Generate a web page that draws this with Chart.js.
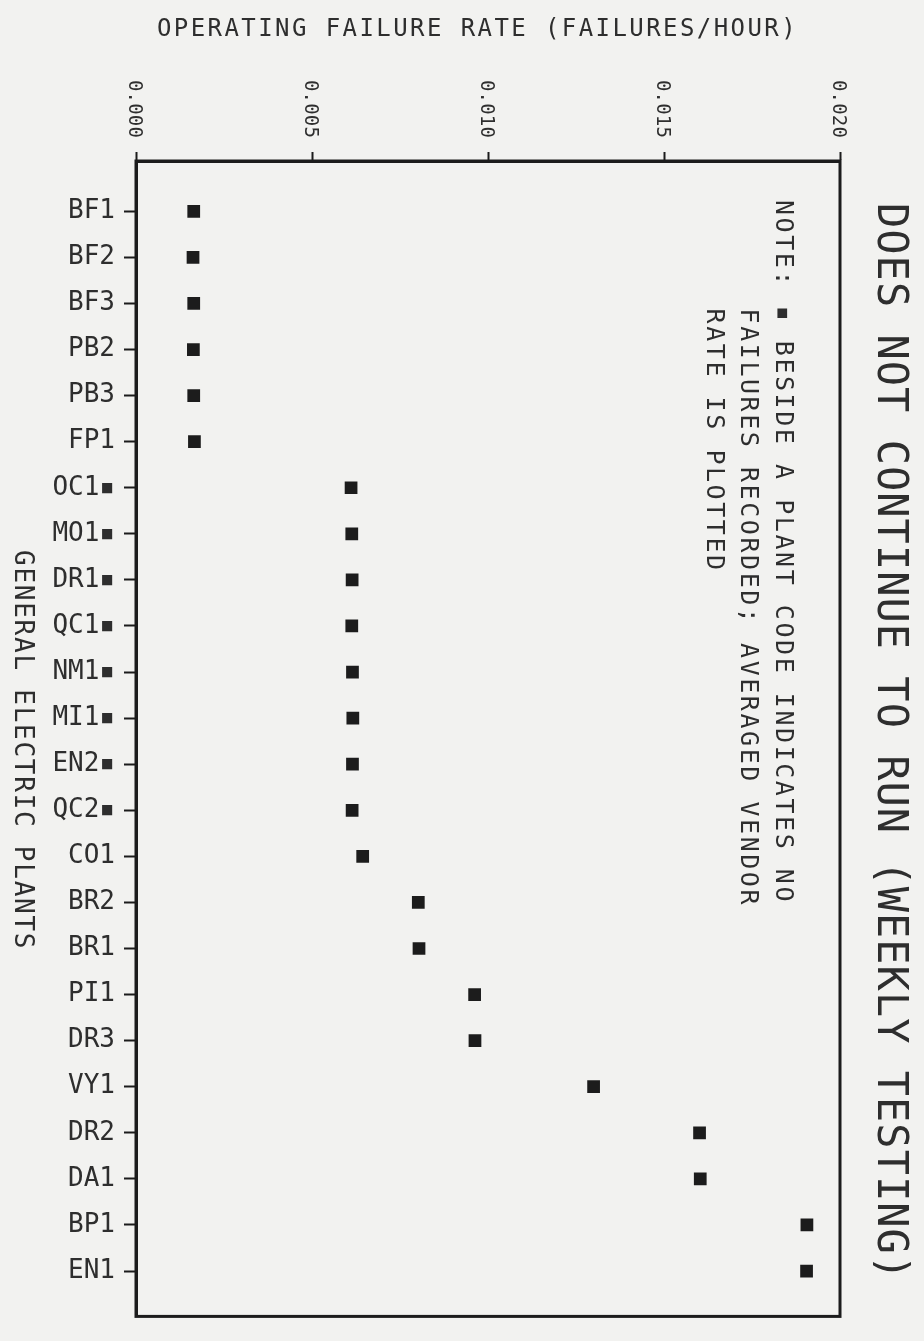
<!DOCTYPE html>
<html>
<head>
<meta charset="utf-8">
<script src="https://cdn.jsdelivr.net/npm/chart.js@4.4.1/dist/chart.umd.min.js"></script>
<style>
  html, body { margin: 0; padding: 0; background: #f2f2f0; }
  #wrap { width: 924px; height: 1341px; position: relative; }
  canvas { display: block; }
</style>
</head>
<body>
<div id="wrap"><canvas id="c" width="924" height="1341"></canvas></div>
<script>
// ---- data ----
const categories = ['BF1','BF2','BF3','PB2','PB3','FP1','OC1','MO1','DR1','QC1','NM1','MI1','EN2','QC2','CO1','BR2','BR1','PI1','DR3','VY1','DR2','DA1','BP1','EN1'];
const noFailureFlags = [false,false,false,false,false,false,true,true,true,true,true,true,true,true,false,false,false,false,false,false,false,false,false,false];
const failureRates = [0.00164,0.00162,0.00164,0.00163,0.00164,0.00166,0.00611,0.00613,0.00614,0.00613,0.00615,0.00616,0.00615,0.00614,0.00644,0.00802,0.00804,0.00962,0.00963,0.01300,0.01601,0.01603,0.01906,0.01905];
const xTickValues = [0, 0.005, 0.010, 0.015, 0.020];
const xTickLabels = ['0.000','0.005','0.010','0.015','0.020'];
const chartTitle = 'DOES NOT CONTINUE TO RUN (WEEKLY TESTING)';
const xAxisTitle = 'OPERATING FAILURE RATE (FAILURES/HOUR)';
const yAxisTitle = 'GENERAL ELECTRIC PLANTS';
const noteLines = ['NOTE: \u25AA BESIDE A PLANT CODE INDICATES NO', '      FAILURES RECORDED; AVERAGED VENDOR', '      RATE IS PLOTTED'];

const INK = '#1c1c1c';
const TEXT = '#2e2e2e';
const FONT = '"DejaVu Sans Mono", "Liberation Mono", monospace';

function setSpacing(ctx, text, target) {
  if ('letterSpacing' in ctx) {
    ctx.letterSpacing = '0px';
    const w = ctx.measureText(text).width;
    const sp = (target - w) / text.length;
    ctx.letterSpacing = sp.toFixed(2) + 'px';
  }
}

// draws text rotated 90deg clockwise, starting at (x, yStart), reading downward
function drawRotated(ctx, text, x, yStart, size, perChar) {
  ctx.save();
  ctx.font = size + 'px ' + FONT;
  ctx.fillStyle = TEXT;
  setSpacing(ctx, 'X'.repeat(10), perChar * 10);
  ctx.translate(x, yStart);
  ctx.rotate(Math.PI / 2);
  ctx.textAlign = 'left';
  ctx.textBaseline = 'middle';
  ctx.fillText(text, 0, 0);
  ctx.restore();
}

const deco = {
  id: 'deco',
  afterDraw(chart) {
    const ctx = chart.ctx;
    const a = chart.chartArea;
    const xs = chart.scales.x;
    // frame
    ctx.save();
    ctx.strokeStyle = INK;
    ctx.lineWidth = 3;
    ctx.strokeRect(a.left, a.top, a.right - a.left, a.bottom - a.top);
    ctx.restore();

    // x tick labels, rotated
    xs.ticks.forEach((t, i) => {
      const px = xs.getPixelForValue(t.value);
      ctx.save();
      ctx.font = '19px ' + FONT;
      ctx.fillStyle = TEXT;
      setSpacing(ctx, 'XXXXX', 58);
      ctx.translate(px - 2, 138);
      ctx.rotate(Math.PI / 2);
      ctx.textAlign = 'right';
      ctx.textBaseline = 'middle';
      ctx.fillText(xTickLabels[i], 0, 0);
      ctx.restore();
    });

    // top title (horizontal)
    ctx.save();
    ctx.font = '24px ' + FONT;
    ctx.fillStyle = TEXT;
    setSpacing(ctx, xAxisTitle, 641);
    ctx.textAlign = 'left';
    ctx.textBaseline = 'middle';
    ctx.fillText(xAxisTitle, 157, 30);
    ctx.restore();

    // right title
    drawRotated(ctx, chartTitle, 889, 203, 42, 26.3);
    // y axis title
    drawRotated(ctx, yAxisTitle, 22, 550, 26, 17.4);
    // note
    drawRotated(ctx, noteLines[0], 782, 200, 25, 17.6);
    drawRotated(ctx, noteLines[1], 747, 203, 25, 17.6);
    drawRotated(ctx, noteLines[2], 713, 203, 25, 17.6);
  }
};

new Chart(document.getElementById('c').getContext('2d'), {
  type: 'scatter',
  data: {
    datasets: [{
      data: categories.map((c, i) => ({ x: failureRates[i], y: i })),
      pointStyle: 'rect',
      pointRadius: 9,
      backgroundColor: INK,
      borderColor: INK,
      borderWidth: 0
    }]
  },
  options: {
    responsive: false,
    animation: false,
    layout: { padding: { left: 0, top: 0, right: 84, bottom: 9 } },
    plugins: { legend: { display: false }, tooltip: { enabled: false } },
    scales: {
      x: {
        type: 'linear',
        position: 'top',
        min: 0,
        max: 0.02,
        afterBuildTicks: s => { s.ticks = xTickValues.map(v => ({ value: v })); },
        afterFit: s => { s.height = 161; },
        ticks: { display: false },
        grid: { drawOnChartArea: false, drawTicks: true, tickLength: 9, tickWidth: 2, tickColor: INK },
        border: { display: true, width: 3, color: INK }
      },
      y: {
        type: 'linear',
        reverse: true,
        min: -1.092,
        max: 23.985,
        afterBuildTicks: s => { s.ticks = categories.map((c, i) => ({ value: i })); },
        afterFit: s => { s.width = 136; },
        ticks: {
          autoSkip: false,
          padding: 9,
          color: TEXT,
          font: { family: FONT, size: 26 },
          callback: v => categories[v] + (noFailureFlags[v] ? '\u25AA' : '')
        },
        grid: { drawOnChartArea: false, drawTicks: true, tickLength: 12, tickWidth: 2, tickColor: INK },
        border: { display: true, width: 3, color: INK }
      }
    }
  },
  plugins: [deco]
});
</script>
</body>
</html>
